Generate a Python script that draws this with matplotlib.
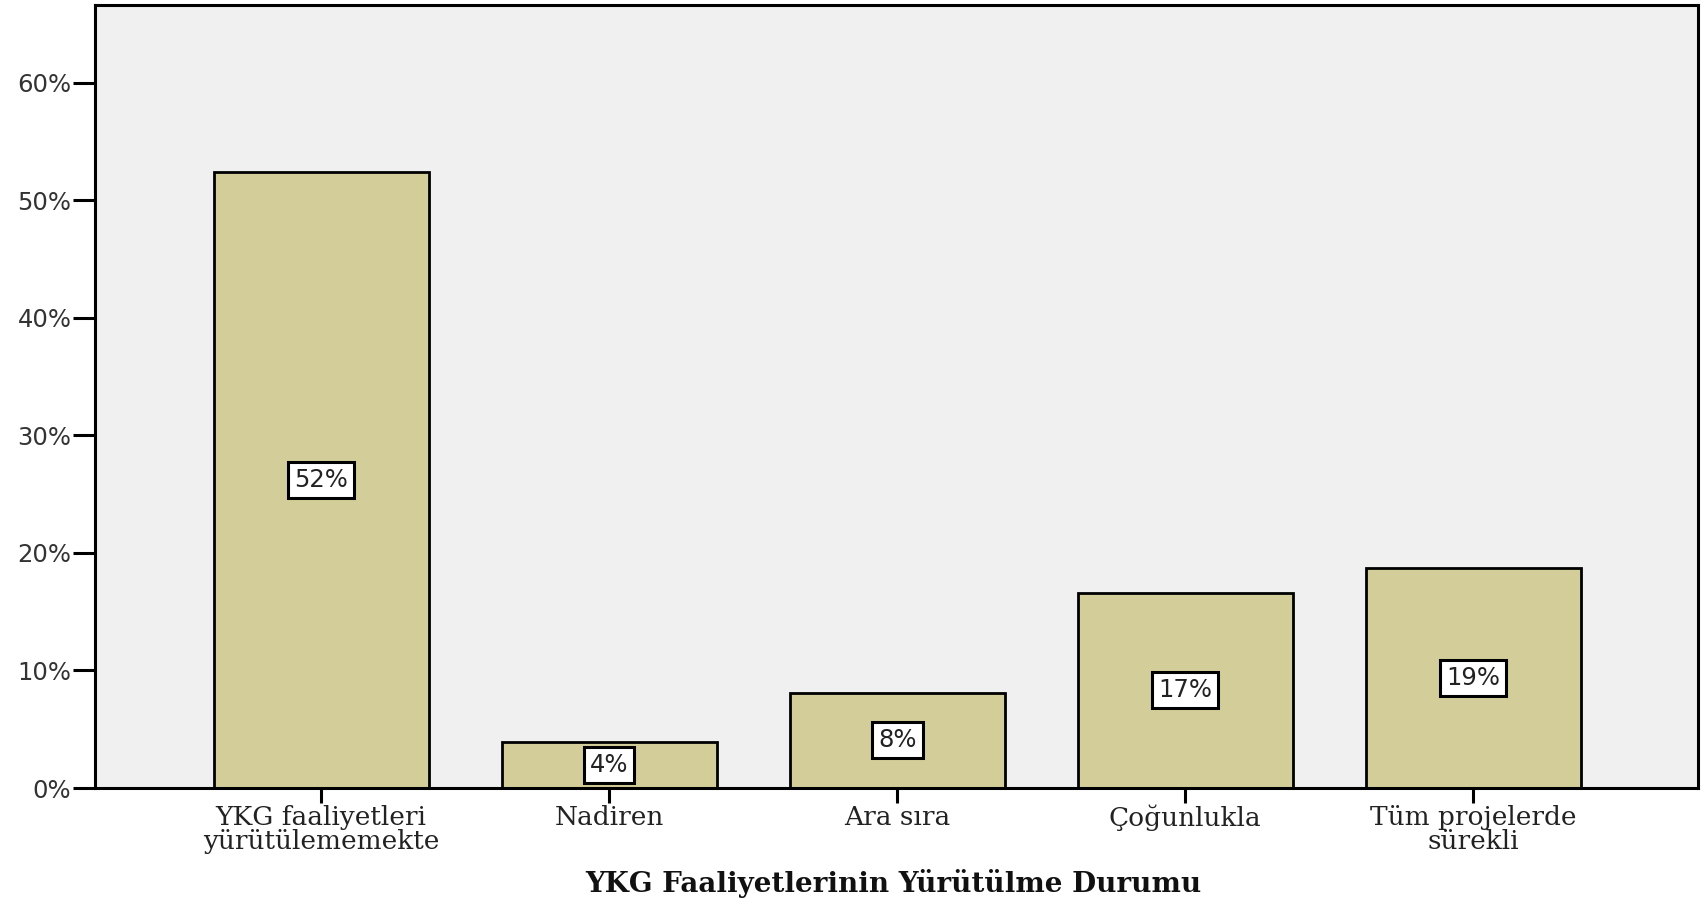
import matplotlib
matplotlib.use('Agg')
import matplotlib.pyplot as plt
from matplotlib.ticker import FuncFormatter

categories = ['YKG faaliyetleri\nyürütülememekte', 'Nadiren', 'Ara sıra',
              'Çoğunlukla', 'Tüm projelerde\nsürekli']
percents = [52.4, 3.9, 8.1, 16.6, 18.7]
y_ticks = [0, 10, 20, 30, 40, 50, 60]
x_title = 'YKG Faaliyetlerinin Yürütülme Durumu'

BAR_COLOR = '#D3CE99'
BG_COLOR = '#F0F0F0'

fig = plt.figure(figsize=(17.03, 8.98), dpi=100)
ax = fig.add_axes([95 / 1703, 1 - 788 / 898, (1698 - 95) / 1703, (788 - 5) / 898])
ax.set_facecolor(BG_COLOR)

xs = list(range(len(categories)))
ax.bar(xs, percents, width=0.746, color=BAR_COLOR,
       edgecolor='black', linewidth=2.0, zorder=2)

# value labels in white boxes at the middle of each bar
for x, v in zip(xs, percents):
    ax.text(x, v / 2, f'{v:.0f}%', ha='center', va='center',
            fontsize=17.5, family='DejaVu Sans', color='#222222', zorder=3,
            bbox=dict(boxstyle='square,pad=0.25', facecolor='white',
                      edgecolor='black', linewidth=2.2))

ax.set_xlim(-0.785, 4.78)
ax.set_ylim(0, 66.6)
ax.set_yticks(y_ticks)
ax.yaxis.set_major_formatter(FuncFormatter(lambda v, p: f'{v:.0f}%'))
ax.set_xticks(xs)
ax.set_xticklabels(categories, fontsize=19, family='DejaVu Serif',
                   color='#222222', linespacing=0.95)

for lbl in ax.get_yticklabels():
    lbl.set_fontsize(17.5)
    lbl.set_family('DejaVu Sans')
    lbl.set_color('#333333')

ax.tick_params(axis='y', length=16, width=2.2, pad=1, direction='out')
ax.tick_params(axis='x', length=11, width=2.2, pad=1, direction='out')

for sp in ax.spines.values():
    sp.set_linewidth(2.2)
    sp.set_color('black')

fig.text((95 + 1698) / 2 / 1703 - 0.002, 1 - 883 / 898, x_title,
         ha='center', va='center', fontsize=20, fontweight='bold',
         family='DejaVu Serif', color='#111111')

fig.savefig('out.png', dpi=100)
